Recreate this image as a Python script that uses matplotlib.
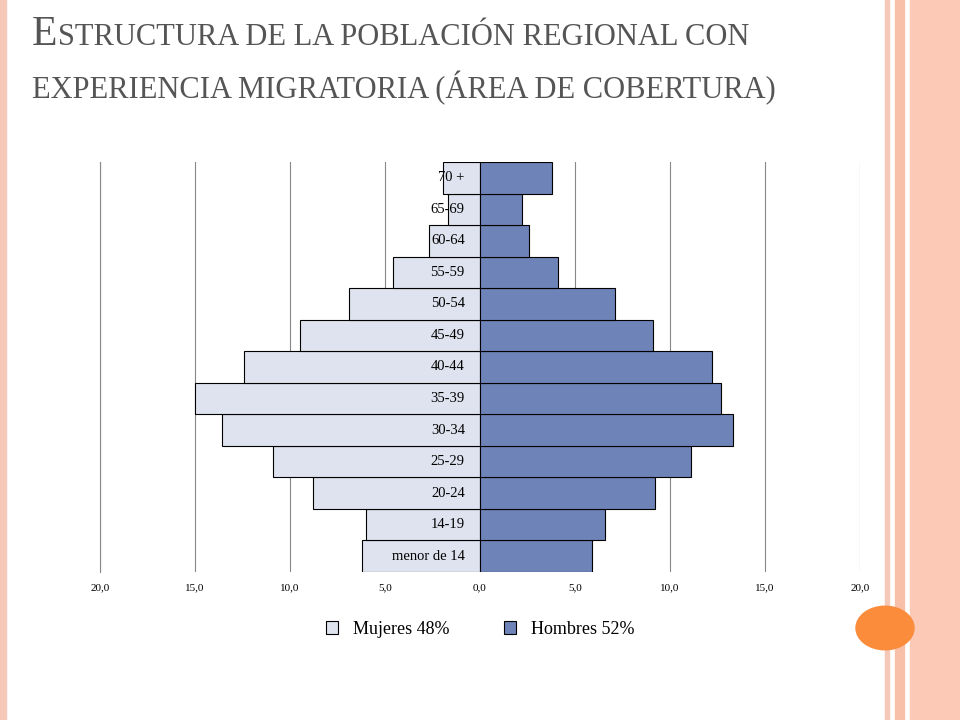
import numpy as np
import matplotlib.pyplot as plt
from matplotlib.patches import Rectangle, Circle

# Datos
grupos = ['menor de 14', '14-19', '20-24', '25-29', '30-34', '35-39', '40-44',
          '45-49', '50-54', '55-59', '60-64', '65-69', '70 +']
mujeres = [6.2, 6.0, 8.8, 10.9, 13.6, 15.0, 12.4, 9.5, 6.9, 4.6, 2.7, 1.7, 1.95]
hombres = [5.9, 6.6, 9.2, 11.1, 13.3, 12.7, 12.2, 9.1, 7.1, 4.1, 2.6, 2.2, 3.8]
ticks = [-20, -15, -10, -5, 0, 5, 10, 15, 20]
tick_labels = ['20,0', '15,0', '10,0', '5,0', '0,0', '5,0', '10,0', '15,0', '20,0']

fig = plt.figure(figsize=(9.6, 7.2), dpi=100)
fig.patch.set_facecolor('white')

# Decoración de la diapositiva
fig.add_artist(Rectangle((0, 0), 0.006, 1, transform=fig.transFigure, color='#f6c8b8'))
fig.add_artist(Rectangle((0.922, 0), 0.004, 1, transform=fig.transFigure, color='#f6c8b8'))
fig.add_artist(Rectangle((0.932, 0), 0.010, 1, transform=fig.transFigure, color='#f8c0a8'))
fig.add_artist(Rectangle((0.948, 0), 0.052, 1, transform=fig.transFigure, color='#fbc9b6'))
fig.add_artist(Circle((885 / 960, 1 - 628 / 720), 29 / 960, transform=fig.transFigure,
                      color='#fb8c3c'))
fig.add_artist(Circle((885 / 960, 1 - 628 / 720), 0.001, transform=fig.transFigure,
                      color='#fb8c3c'))

serif = 'Liberation Serif'
fig.text(32 / 960, 1 - 45 / 720, 'E', fontsize=30, family=serif, color='#555555', va='baseline')
fig.text(58 / 960, 1 - 45 / 720, 'STRUCTURA DE LA POBLACIÓN REGIONAL CON', fontsize=22,
         family=serif, color='#555555', va='baseline')
fig.text(32 / 960, 1 - 98 / 720, 'EXPERIENCIA MIGRATORIA (ÁREA DE COBERTURA)', fontsize=22,
         family=serif, color='#555555', va='baseline')

ax = fig.add_axes([100 / 960, 1 - 572 / 720, 760 / 960, 410 / 720])
y = np.arange(len(grupos))
ax.barh(y, [-m for m in mujeres], height=1.0, color='#dfe3ef', edgecolor='black',
        linewidth=0.8, label='Mujeres 48%', zorder=2)
ax.barh(y, hombres, height=1.0, color='#6e84b8', edgecolor='black',
        linewidth=0.8, label='Hombres 52%', zorder=2)
for yi, g in zip(y, grupos):
    ax.text(-0.8, yi, g, ha='right', va='center', fontsize=10.5, family=serif, zorder=3)

ax.set_xlim(-20, 20)
ax.set_ylim(-0.5, len(grupos) - 0.5)
ax.set_xticks(ticks)
ax.set_xticklabels(tick_labels, fontsize=8, family=serif)
ax.set_yticks([])
ax.tick_params(axis='x', length=0, pad=8)
ax.grid(axis='x', color='#888888', linewidth=0.8, zorder=0)
for s in ['top', 'right', 'bottom']:
    ax.spines[s].set_visible(False)
ax.spines['left'].set_color('#888888')

ax.legend(loc='upper center', bbox_to_anchor=(0.5, -0.08), ncol=2, frameon=False,
          prop={'family': serif, 'size': 13}, handlelength=0.7, handleheight=0.7,
          columnspacing=3)

fig.savefig('out.png', dpi=100)
